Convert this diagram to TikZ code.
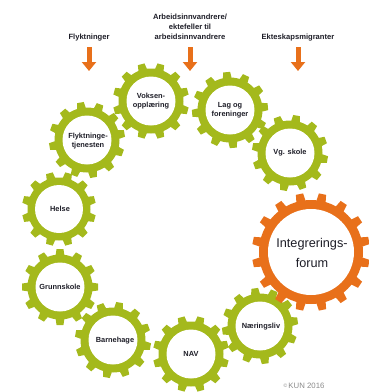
\documentclass[tikz,border=0pt]{standalone}
\usepackage{fontspec}
\setmainfont{Liberation Sans}
\usetikzlibrary{arrows.meta}
\definecolor{gearGreen}{HTML}{A4B91C}
\definecolor{gearOrange}{HTML}{E8701A}
\definecolor{txtDark}{HTML}{1E1E28}
\definecolor{copyGrey}{HTML}{8A8A8A}
\newcommand{\mygear}[8]{%
  % #1 center, #2 tip, #3 body, #4 hole, #5 teeth, #6 phase, #7 colour, #8 half width
  \begin{scope}[shift={#1}]
    \fill[#7] (0,0) circle (#3);
    \foreach \k in {1,...,#5}{
      \fill[#7, rotate={#6+\k*360/#5}] (-#8,0) -- (-#8,#3) -- ({-0.8*#8},#2) -- ({0.8*#8},#2) -- (#8,#3) -- (#8,0) -- cycle;
    }
    \fill[white] (0,0) circle (#4);
  \end{scope}}
\begin{document}
\begin{tikzpicture}[x=1pt,y=-1pt,
  gearlabel/.style={font=\fontsize{7.4}{8.7}\selectfont\bfseries, text=txtDark, align=center, inner sep=0pt},
  toplabel/.style={font=\fontsize{7.6}{9.8}\selectfont\bfseries, text=txtDark, align=center, inner sep=0pt},
  biglabel/.style={font=\fontsize{12.7}{20}\selectfont, text=txtDark, align=center, inner sep=0pt},
  flowarrow/.style={draw=gearOrange, line width=5pt, -{Triangle[width=14pt,length=9pt]}}]
\useasboundingbox (0,0) rectangle (368,392);
% gears
\mygear{(151,101)}{38}{32.5}{24.5}{12}{15}{gearGreen}{4.3}
\mygear{(230,110)}{38}{32.5}{24.5}{12}{5}{gearGreen}{4.3}
\mygear{(290,153)}{38}{32.5}{24.5}{12}{20}{gearGreen}{4.3}
\mygear{(87,140)}{38}{32.5}{24.5}{12}{10}{gearGreen}{4.3}
\mygear{(59,209)}{37}{31.5}{24}{12}{15}{gearGreen}{4.3}
\mygear{(60,287)}{38}{32.5}{24.5}{12}{0}{gearGreen}{4.3}
\mygear{(113,340)}{38}{32.5}{24.5}{12}{20}{gearGreen}{4.3}
\mygear{(191,354)}{38}{32.5}{24.5}{12}{15}{gearGreen}{4.3}
\mygear{(260,326)}{38}{32.5}{24.5}{12}{8}{gearGreen}{4.3}
\mygear{(311,252)}{59}{52}{43}{16}{11.25}{gearOrange}{4.6}
% gear labels
\node[gearlabel] (voksen) at (151,101) {Voksen-\\opplæring};
\node[gearlabel] (lag) at (230,110) {Lag og\\foreninger};
\node[gearlabel] (vgs) at (290,153) {Vg. skole};
\node[gearlabel] (flyktjen) at (88,141) {Flyktninge-\\tjenesten};
\node[gearlabel] (helse) at (60,209) {Helse};
\node[gearlabel] (grunn) at (60,287) {Grunnskole};
\node[gearlabel] (barne) at (115,341) {Barnehage};
\node[gearlabel] (nav) at (191,354) {NAV};
\node[gearlabel] (naering) at (261,327) {Næringsliv};
\node[biglabel] (integ) at (312,253) {Integrerings-\\forum};
% top labels
\node[toplabel] (flykt) at (89,38) {Flyktninger};
\node[toplabel] (arb) at (190,27) {Arbeidsinnvandrere/\\ektefeller til\\arbeidsinnvandrere};
\node[toplabel] (ekte) at (298,38) {Ekteskapsmigranter};
% arrows
\coordinate (a1s) at (89,47); \coordinate (a1e) at (89,71);
\coordinate (a2s) at (190,47); \coordinate (a2e) at (190,71);
\coordinate (a3s) at (298,47); \coordinate (a3e) at (298,71);
\draw[flowarrow] (a1s) -- (a1e);
\draw[flowarrow] (a2s) -- (a2e);
\draw[flowarrow] (a3s) -- (a3e);
% copyright
\node[font=\fontsize{7.8}{9}\selectfont, text=copyGrey, inner sep=0pt] (copy) at (304,386) {{\fontsize{5}{6}\selectfont\raisebox{1pt}{©}}\,KUN 2016};
\end{tikzpicture}
\end{document}
